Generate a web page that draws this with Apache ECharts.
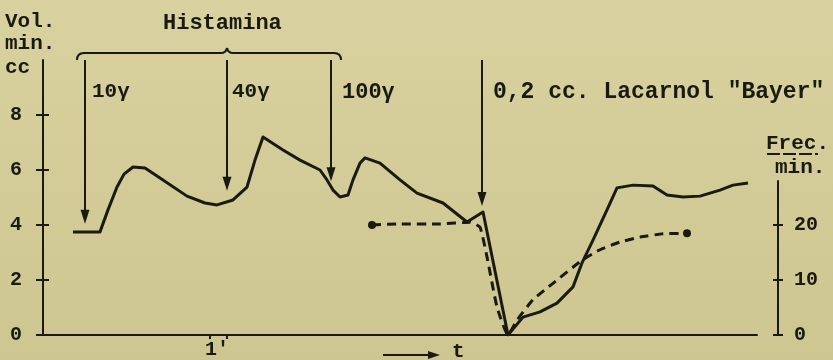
<!DOCTYPE html>
<html><head><meta charset="utf-8">
<script src="https://cdn.jsdelivr.net/npm/echarts@6/dist/echarts.min.js"></script>
<style>html,body{margin:0;padding:0;}#c{width:833px;height:360px;}</style>
</head><body><div id="c"></div>
<script>
// Solid curve: volume per minute (cc), left axis
const volX = [30,57,65,74,81,90,102,117,144,162,174,190,204,212,220,240,257,277,284,290,297,305,310,317,322,337,357,374,400,424,432,440,465,480,497,514,530,539,550,564,574,590,610,624,640,657,677,690,705];
const volY = [3.75,3.75,4.55,5.38,5.85,6.11,6.07,5.71,5.05,4.8,4.73,4.91,5.38,6.36,7.2,6.73,6.36,6.0,5.64,5.27,5.02,5.09,5.64,6.25,6.44,6.25,5.64,5.16,4.8,4.11,4.29,4.47,0,0.65,0.84,1.16,1.75,2.62,3.45,4.55,5.35,5.45,5.42,5.09,5.02,5.05,5.27,5.45,5.53];
// Dashed curve: frequency per minute, right axis
const frecX = [329,357,397,427,437,444,454,465,474,490,510,539,557,577,597,620,644];
const frecY = [20,20.2,20.2,20.5,19.6,14.2,5.1,0,2.7,6.4,9.4,13.6,15.5,16.9,17.8,18.4,18.5];
// Tick labels
const leftTicks = [0,2,4,6,8];
const rightTicks = [0,10,20];
// Injection arrows: [x, end value, label]
const arrowX = [42,184,288,439];
const arrowEnd = [4.3,5.5,5.85,4.95];
const arrowLabels = ['10γ','40γ','100γ','0,2 cc. Lacarnol "Bayer"'];

const ink = '#1b1a12';
const FF = '"Liberation Mono", "DejaVu Sans Mono", monospace';
const chart = echarts.init(document.getElementById('c'));

function txt(text, x, y, size, align) {
  return {type:'text', silent:true, style:{text:text, x:x, y:y, fill:ink,
    font:'bold '+size+'px '+FF, textAlign:align||'left', textVerticalAlign:'middle',
    align:align||'left', verticalAlign:'middle'}};
}
function seg(x1,y1,x2,y2){return {type:'line',silent:true,shape:{x1:x1,y1:y1,x2:x2,y2:y2},style:{stroke:ink,lineWidth:2}};}
function bez(x1,y1,cx,cy,x2,y2){return {type:'bezierCurve',silent:true,shape:{x1:x1,y1:y1,cpx1:cx,cpy1:cy,x2:x2,y2:y2},style:{stroke:ink,lineWidth:2,fill:null}};}
const labelXs = [92,232,342,493];

const option = {
  animation:false,
  backgroundColor:{type:'linear',x:0,y:0,x2:0,y2:1,colorStops:[{offset:0,color:'#d9d2a0'},{offset:1,color:'#cdc690'}]},
  grid:[{left:43,right:76,top:60,bottom:25},{left:43,right:55,top:181,bottom:25}],
  xAxis:[
    {gridIndex:0,type:'value',min:0,max:714,
     axisLine:{show:true,lineStyle:{color:ink,width:2}},
     splitLine:{show:false},
     axisTick:{show:true,customValues:[167,184],length:4,lineStyle:{color:ink,width:2}},
     axisLabel:{customValues:[174],formatter:function(){return "1'";},color:ink,fontFamily:FF,fontWeight:'bold',fontSize:20,margin:5}},
    {gridIndex:1,type:'value',min:0,max:735,show:false}
  ],
  yAxis:[
    {gridIndex:0,type:'value',min:0,max:10,position:'left',
     axisLine:{show:true,onZero:false,lineStyle:{color:ink,width:2}},splitLine:{show:false},
     axisTick:{show:true,customValues:leftTicks,length:7,lineStyle:{color:ink,width:2}},
     axisLabel:{customValues:leftTicks,color:ink,fontFamily:FF,fontWeight:'bold',fontSize:20,margin:21}},
    {gridIndex:0,type:'value',min:0,max:10,position:'left',
     axisLine:{show:false,onZero:false},splitLine:{show:false},
     axisTick:{show:true,inside:true,customValues:leftTicks,length:6,lineStyle:{color:ink,width:2}},
     axisLabel:{show:false}},
    {gridIndex:1,type:'value',min:0,max:28,position:'right',
     axisLine:{show:true,onZero:false,lineStyle:{color:ink,width:2}},splitLine:{show:false},
     axisTick:{show:true,customValues:rightTicks,length:5,lineStyle:{color:ink,width:2}},
     axisLabel:{customValues:rightTicks,color:ink,fontFamily:FF,fontWeight:'bold',fontSize:20,margin:16}},
    {gridIndex:1,type:'value',min:0,max:28,position:'right',
     axisLine:{show:false,onZero:false},splitLine:{show:false},
     axisTick:{show:true,inside:true,customValues:rightTicks,length:5,lineStyle:{color:ink,width:2}},
     axisLabel:{show:false}}
  ],
  series:[
    {type:'line',xAxisIndex:0,yAxisIndex:0,symbol:'none',smooth:false,
     lineStyle:{color:ink,width:3,join:'round'},
     data:volX.map(function(x,i){return [x,volY[i]];}),
     markLine:{silent:true,symbol:['none','triangle'],symbolSize:[9,14],
       label:{show:false},lineStyle:{color:ink,width:2,type:'solid'},
       data:arrowX.map(function(x,i){return [{coord:[x,10]},{coord:[x,arrowEnd[i]]}];})}},
    {type:'line',xAxisIndex:1,yAxisIndex:2,symbol:'none',smooth:0.15,
     lineStyle:{color:ink,width:3,type:[9,6]},
     data:frecX.map(function(x,i){
       const p={value:[x,frecY[i]]};
       if(i===0||i===frecX.length-1){p.symbol='circle';p.symbolSize=8;p.itemStyle={color:ink};}
       return p;})}
  ],
  graphic:[
    txt('Vol.',5,22,21), txt('min.',5,44,21), txt('cc',5,68,21),
    txt('Histamina',163,23,22),
    txt(arrowLabels[0],labelXs[0],92,21), txt(arrowLabels[1],labelXs[1],92,21),
    txt(arrowLabels[2],labelXs[2],92,22), txt(arrowLabels[3],labelXs[3],92,23),
    txt('Frec.',766,144,21), txt('min.',775,168,21),
    txt('t',452,352,21),
    {type:'line',silent:true,shape:{x1:767,y1:154,x2:818,y2:154},style:{stroke:ink,lineWidth:2,lineDash:[13,3]}},
    bez(77,60,77,53,84,53), seg(84,53,221,53), bez(221,53,226,53,227,48),
    bez(227,48,228,53,233,53), seg(233,53,334,53), bez(334,53,341,53,341,60),
    seg(383,355,430,355),
    {type:'polygon',silent:true,shape:{points:[[428,351],[440,355],[428,359]]},style:{fill:ink}}
  ]
};
chart.setOption(option);
</script></body></html>
